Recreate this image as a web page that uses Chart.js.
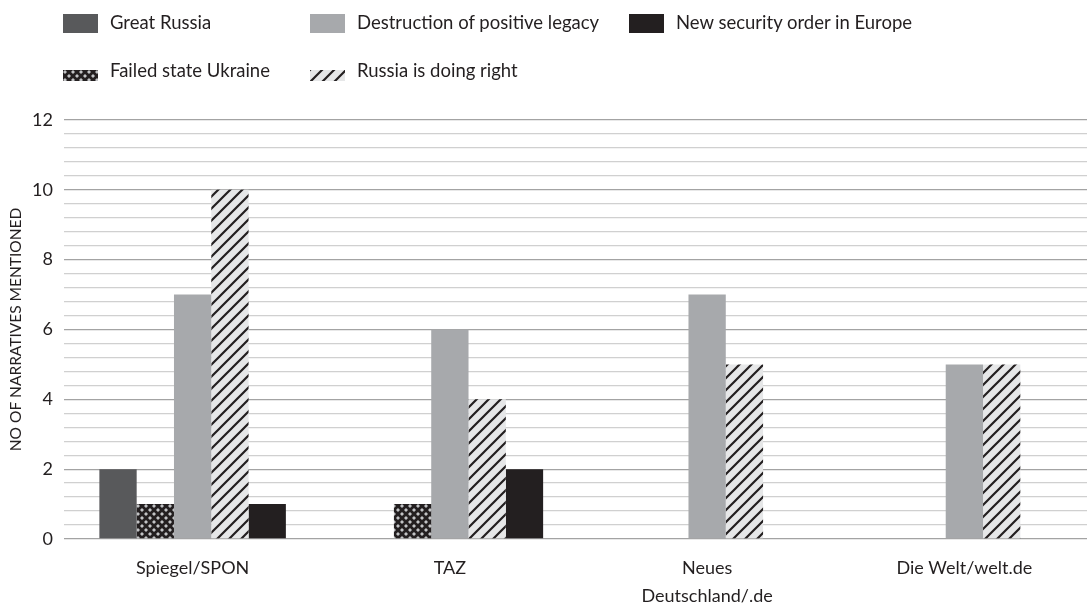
<!DOCTYPE html>
<html><head><meta charset="utf-8">
<script src="https://cdn.jsdelivr.net/npm/chart.js@4"></script>
<style>
html,body{margin:0;padding:0;background:#fff;overflow:hidden;width:1087px;height:606px}
#wrap{position:relative;width:1087px;height:606px;overflow:hidden}
#c{position:absolute;left:0;top:0}
.lt{position:absolute;font-family:Lato,sans-serif;font-size:18.5px;color:#231f20;white-space:nowrap;line-height:20px}
.sw{position:absolute}
</style></head><body>
<div id="wrap"><canvas id="c" width="1093" height="606" style="width:1093px;height:606px"></canvas></div>
<script>
// ---- data ----
const categories = [["Spiegel/SPON"], ["TAZ"], ["Neues", "Deutschland/.de"], ["Die Welt/welt.de"]];
const seriesNames = ["Great Russia", "Failed state Ukraine", "Destruction of positive legacy", "Russia is doing right", "New security order in Europe"];
const greatRussia = [2, 0, 0, 0];
const failedStateUkraine = [1, 1, 0, 0];
const destructionLegacy = [7, 6, 7, 5];
const russiaDoingRight = [10, 4, 5, 5];
const newSecurityOrder = [1, 2, 0, 0];
const yTickLabels = [0, 2, 4, 6, 8, 10, 12];
const yTitle = "NO OF NARRATIVES MENTIONED";

// ---- patterns ----
function hatchCanvas() {
  const s = 12, c = document.createElement('canvas'); c.width = s; c.height = s;
  const x = c.getContext('2d');
  x.fillStyle = '#e6e7e8'; x.fillRect(0, 0, s, s);
  x.strokeStyle = '#231f20'; x.lineWidth = 2.2; x.beginPath();
  x.moveTo(-2, s + 2); x.lineTo(s + 2, -2);
  x.moveTo(-2, 2); x.lineTo(2, -2);
  x.moveTo(s - 2, s + 2); x.lineTo(s + 2, s - 2);
  x.stroke();
  return c;
}
function crossCanvas() {
  const w = 8, h = 8, c = document.createElement('canvas'); c.width = w; c.height = h;
  const x = c.getContext('2d');
  x.fillStyle = '#231f20'; x.fillRect(0, 0, w, h);
  x.fillStyle = '#c2c3c5';
  const dot = (cx, cy) => { x.beginPath(); x.moveTo(cx, cy - 2); x.lineTo(cx + 2, cy); x.lineTo(cx, cy + 2); x.lineTo(cx - 2, cy); x.closePath(); x.fill(); };
  dot(2, 2); dot(6, 6);
  return c;
}
const ctx = document.getElementById('c').getContext('2d');
const hatchPat = ctx.createPattern(hatchCanvas(), 'repeat');
const crossPat = ctx.createPattern(crossCanvas(), 'repeat');
const fills = ['#58595b', crossPat, '#a7a9ac', hatchPat, '#231f20'];
const values = [greatRussia, failedStateUkraine, destructionLegacy, russiaDoingRight, newSecurityOrder];

// ---- HTML legend (column-major, 2 rows) ----
const wrap = document.getElementById('wrap');
const legendPos = [
  {x: 63, y: 14, h: 19, ty: 12},
  {x: 63, y: 70, h: 11, ty: 60},
  {x: 310, y: 14, h: 19, ty: 12},
  {x: 310, y: 70, h: 11, ty: 60},
  {x: 629, y: 14, h: 19, ty: 12}
];
seriesNames.forEach((name, i) => {
  const p = legendPos[i];
  const sw = document.createElement('canvas');
  sw.className = 'sw'; sw.width = 35; sw.height = p.h;
  sw.style.left = p.x + 'px'; sw.style.top = p.y + 'px';
  const sx = sw.getContext('2d');
  const f = fills[i];
  if (typeof f === 'string') sx.fillStyle = f;
  else sx.fillStyle = sx.createPattern(i === 1 ? crossCanvas() : hatchCanvas(), 'repeat');
  sx.fillRect(0, 0, 35, p.h);
  wrap.appendChild(sw);
  const t = document.createElement('div');
  t.className = 'lt'; t.textContent = name;
  t.style.left = (p.x + 47) + 'px'; t.style.top = p.ty + 'px';
  wrap.appendChild(t);
});

// ---- chart ----
const isMult = (v, m) => Math.abs(v / m - Math.round(v / m)) < 1e-6;
new Chart(ctx, {
  type: 'bar',
  data: {
    labels: categories,
    datasets: seriesNames.map((n, i) => ({
      label: n, data: values[i], backgroundColor: fills[i], borderWidth: 0,
      categoryPercentage: 0.725, barPercentage: 1.0
    }))
  },
  options: {
    responsive: false, animation: false, devicePixelRatio: 1,
    layout: {padding: {top: 120, left: 0, right: 0, bottom: 0}},
    plugins: {legend: {display: false}, tooltip: {enabled: false}},
    scales: {
      x: {
        grid: {display: false, drawTicks: false}, border: {display: false},
        ticks: {color: '#231f20', font: {family: 'Lato', size: 18, lineHeight: 1.55}, padding: 15, maxRotation: 0, autoSkip: false},
        afterFit: s => { s.height = 67; }
      },
      y: {
        min: 0, max: 12,
        border: {display: false},
        grid: {drawTicks: false, color: c => isMult(c.tick.value, 2) ? '#a3a3a3' : '#d0d0d0', lineWidth: 1.3},
        ticks: {
          stepSize: 0.4, maxTicksLimit: 40, autoSkip: false, padding: 11,
          color: '#231f20', font: {family: 'Lato', size: 18},
          callback: v => { const r = Math.round(v); return (isMult(v, 2) && yTickLabels.includes(r)) ? String(r) : ''; }
        },
        title: {display: true, text: yTitle, color: '#231f20', font: {family: 'Lato', size: 15.5}, padding: {top: 7, bottom: 0}},
        afterFit: s => { s.width = 64; }
      }
    }
  }
});
</script>
</body></html>
